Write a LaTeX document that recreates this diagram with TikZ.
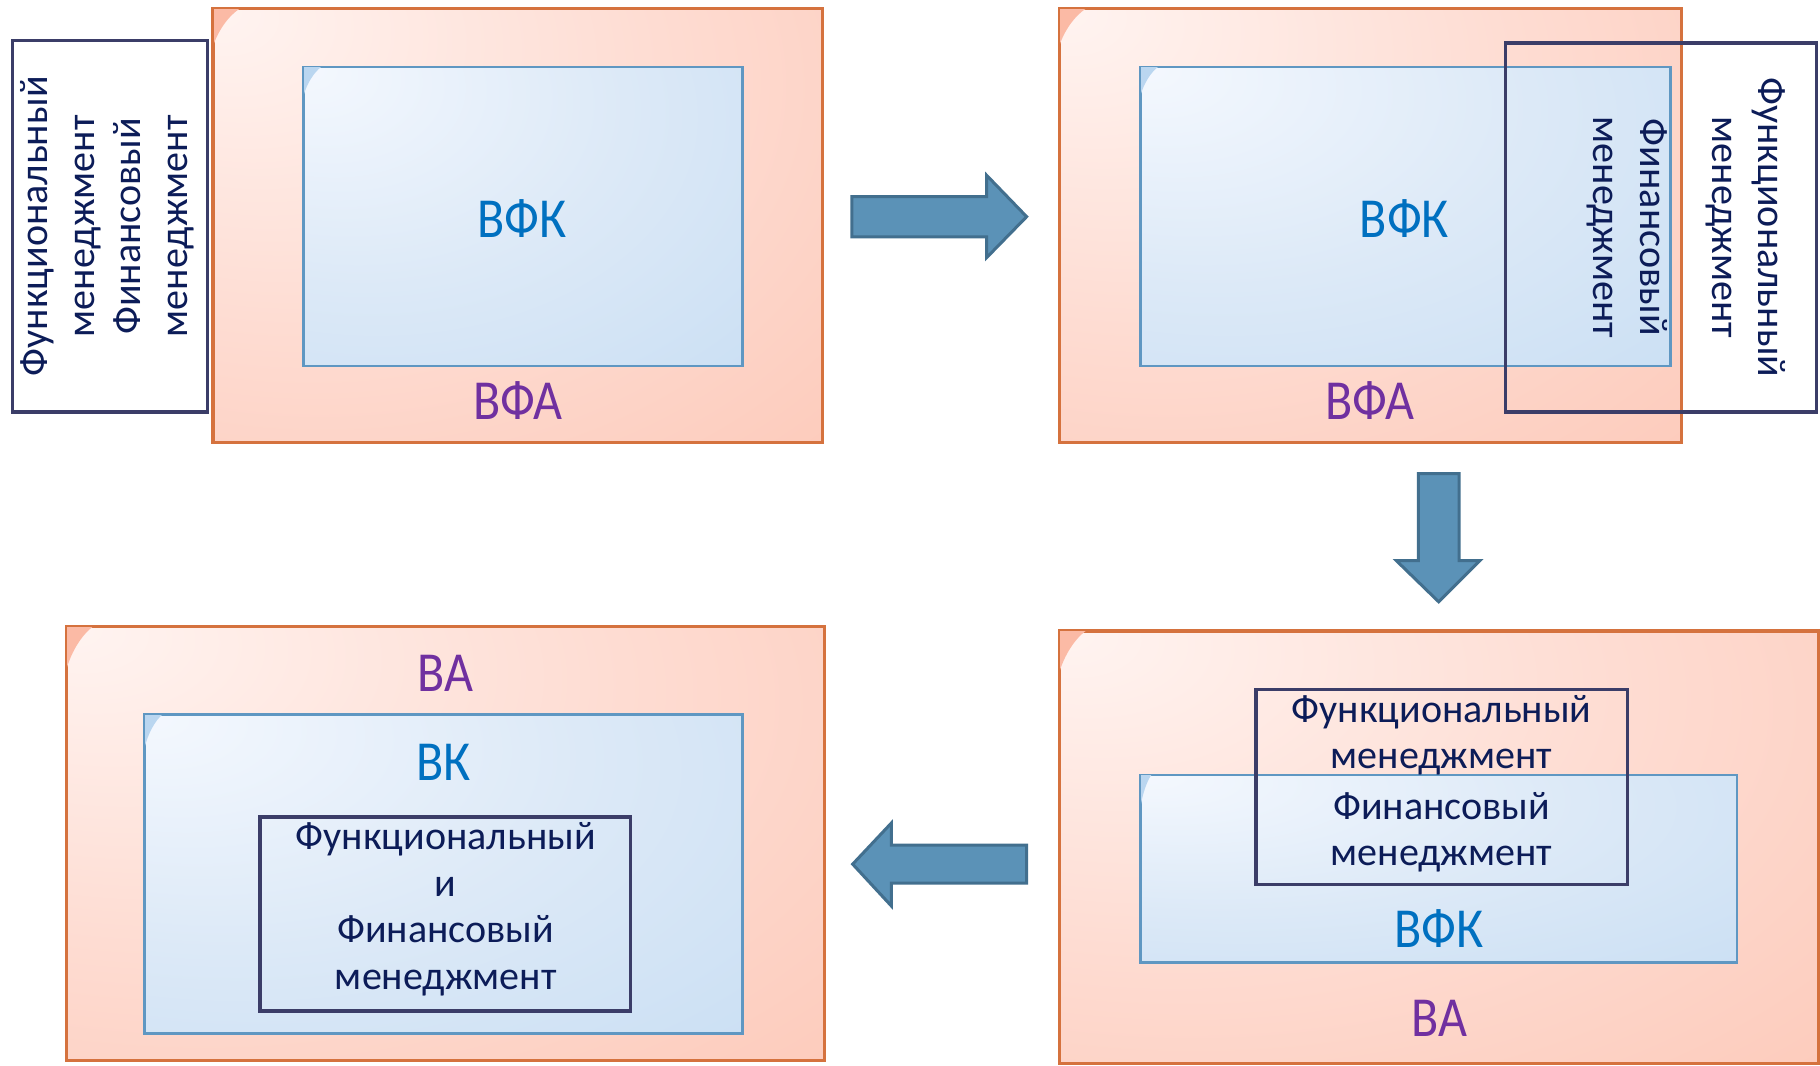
\documentclass[tikz,border=0pt]{standalone}
\usepackage{fontspec}
\setmainfont{Carlito}
\usetikzlibrary{fit}
\definecolor{pinkA}{HTML}{FFF4F1}
\definecolor{pinkB}{HTML}{FEDCD2}
\definecolor{pinkC}{HTML}{FBBAA5}
\definecolor{pinkedge}{HTML}{D5723E}
\definecolor{blueA}{HTML}{F4F8FE}
\definecolor{blueB}{HTML}{DCE9F7}
\definecolor{blueC}{HTML}{BAD6F0}
\definecolor{blueedge}{HTML}{5F97C2}
\definecolor{mgmtedge}{HTML}{3B3D68}
\definecolor{navytext}{HTML}{0C1C58}
\definecolor{vfkblue}{HTML}{0070C0}
\definecolor{vfapurple}{HTML}{7030A0}
\definecolor{arrowfill}{HTML}{5B92B7}
\definecolor{arrowedge}{HTML}{426F8E}
\pgfdeclareradialshading{pinkglow}{\pgfpoint{-25bp}{25bp}}{color(0bp)=(pinkA); color(30bp)=(pinkB); color(80bp)=(pinkC); color(110bp)=(pinkC)}
\pgfdeclareradialshading{blueglow}{\pgfpoint{-25bp}{25bp}}{color(0bp)=(blueA); color(30bp)=(blueB); color(80bp)=(blueC); color(110bp)=(blueC)}
\tikzset{
  pinkbox/.style={draw=pinkedge, line width=1.1pt, shading=pinkglow, inner sep=0pt},
  bluebox/.style={draw=blueedge, line width=0.9pt, shading=blueglow, inner sep=0pt},
  mgmtbox/.style={draw=mgmtedge, line width=1.7pt, inner sep=0pt},
  mgmttext/.style={font=\fontsize{20}{23.3}\selectfont, text=navytext, align=center, inner sep=0pt},
  biglabel/.style={font=\fontsize{25}{30}\selectfont, inner sep=0pt},
  blockarrow/.style={fill=arrowfill, draw=arrowedge, line width=1.5pt, line join=miter}
}
% gloss wedge in the top-left corner of a box: node, fill, width, height, edge colour, edge width
\newcommand\glosswedge[6]{%
  \begin{scope}[shift={(#1.north west)}]
    \fill[#2] (0,0) -- (#3,0) .. controls ({0.58*#3},{0.19*#4}) and ({0.2*#3},{0.56*#4}) .. (0,#4) -- cycle;
  \end{scope}
  \draw[#5, line width=#6] (#1.south west) rectangle (#1.north east);}
\newcommand\tallbig[1]{\scalebox{1}[1.13]{#1}}
\begin{document}
\begin{tikzpicture}[x=0.58pt, y=-0.58pt]
\useasboundingbox (0,0) rectangle (1568,918);

% ---------- Panel 1 ----------
\node[pinkbox, fit={(184,8) (708,381)}] (p1) {};
\glosswedge{p1}{pinkC}{24}{34}{pinkedge}{1.1pt}
\node[bluebox, fit={(262,58) (639,315)}] (b1) {};
\glosswedge{b1}{blueC}{16}{26}{blueedge}{0.9pt}
\node[biglabel, text=vfkblue] (k1) at (450,188) {\tallbig{ВФК}};
\node[biglabel, text=vfapurple] (a1) at (446,345) {\tallbig{ВФА}};
\node[mgmtbox, fit={(11,35) (179,355)}] (m1) {};
\node[mgmttext, rotate=90] (t1) at (92.5,195) {Функциональный\\менеджмент\\Финансовый\\менеджмент};

% ---------- Panel 2 ----------
\node[pinkbox, fit={(913,8) (1448,381)}] (p2) {};
\glosswedge{p2}{pinkC}{24}{34}{pinkedge}{1.1pt}
\node[bluebox, fit={(983,58) (1439,315)}] (b2) {};
\glosswedge{b2}{blueC}{16}{26}{blueedge}{0.9pt}
\node[biglabel, text=vfkblue] (k2) at (1210,188) {\tallbig{ВФК}};
\node[biglabel, text=vfapurple] (a2) at (1180,345) {\tallbig{ВФА}};
\node[mgmtbox, fit={(1297,37) (1565,355)}] (m2) {};
\node[mgmttext, rotate=-90] (t2a) at (1402,196) {Финансовый\\менеджмент};
\node[mgmttext, rotate=-90] (t2b) at (1504,196) {Функциональный\\менеджмент};

% ---------- Panel 3 ----------
\node[pinkbox, fit={(913,544) (1566,916)}] (p3) {};
\glosswedge{p3}{pinkC}{24}{38}{pinkedge}{1.1pt}
\node[bluebox, fit={(983,668) (1496,829)}] (b3) {};
\glosswedge{b3}{blueC}{10}{30}{blueedge}{0.9pt}
\node[mgmtbox, fit={(1082,594) (1402,762)}] (m3) {};
\node[mgmttext] (t3a) at (1242,633.5) {Функциональный\\менеджмент};
\node[mgmttext] (t3b) at (1242,717) {Финансовый\\менеджмент};
\node[biglabel, text=vfkblue] (k3) at (1240,800) {\tallbig{ВФК}};
\node[biglabel, text=vfapurple] (a3) at (1240,877) {\tallbig{ВА}};

% ---------- Panel 4 ----------
\node[pinkbox, fit={(58,540) (710,913)}] (p4) {};
\glosswedge{p4}{pinkC}{24}{38}{pinkedge}{1.1pt}
\node[bluebox, fit={(125,616) (639,890)}] (b4) {};
\glosswedge{b4}{blueC}{16}{30}{blueedge}{0.9pt}
\node[biglabel, text=vfapurple] (a4) at (384,580) {\tallbig{ВА}};
\node[biglabel, text=vfkblue] (k4) at (382,657) {\tallbig{ВК}};
\node[mgmtbox, fit={(224,704) (543,871)}] (m4) {};
\node[mgmttext] (t4) at (384,783.5) {Функциональный\\и\\Финансовый\\менеджмент};

% ---------- Arrows ----------
\draw[blockarrow] (734,169.5) -- (850,169.5) -- (850,151) -- (884.5,186.7) -- (850,222) -- (850,204) -- (734,204) -- cycle;
\draw[blockarrow] (1222,408) -- (1257,408) -- (1257,483) -- (1275,483) -- (1239.5,518.5) -- (1203,483) -- (1222,483) -- cycle;
\draw[blockarrow] (884.5,728) -- (768,728) -- (768,709) -- (734.6,744.5) -- (768,780.6) -- (768,760.8) -- (884.5,760.8) -- cycle;
\end{tikzpicture}
\end{document}
